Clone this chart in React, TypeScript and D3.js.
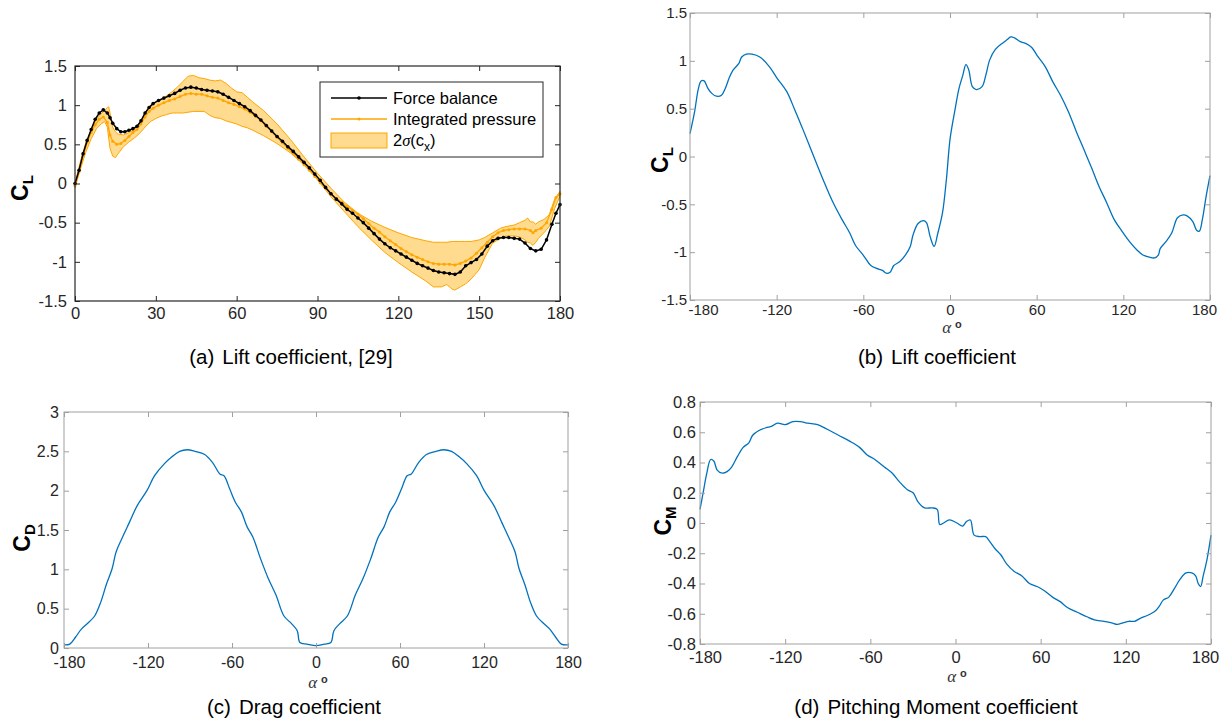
import { useEffect, useRef } from "react";
import * as d3 from "d3";

// ---- (a) lift coefficient, 0..180 deg, from [29]
const fbAlpha = [0, 1.5, 3, 4.5, 6, 7.5, 9, 10.5, 12, 13, 14, 15.5, 17, 18.5, 20, 21.5, 23, 24.5, 26, 27.5, 29, 31, 33, 35, 37, 39, 41, 43, 45, 47, 49, 51, 53, 55, 57, 59, 61, 63, 65, 67, 69, 71, 73, 75, 77, 79, 81, 83, 85, 87, 89, 91, 93, 95, 97, 99, 101, 103, 105, 107, 109, 111, 113, 115, 117, 119, 121, 123, 125, 127, 129, 131, 133, 135, 137, 139, 141, 143, 145, 147, 149, 151, 153, 155, 157, 159, 161, 163, 165, 167, 169, 171, 173, 175, 177, 178.5, 180];
const fbCL = [0, 0.17, 0.38, 0.55, 0.69, 0.82, 0.9, 0.94, 0.9, 0.84, 0.77, 0.7, 0.66, 0.66, 0.68, 0.7, 0.73, 0.8, 0.9, 0.97, 1.02, 1.06, 1.09, 1.12, 1.15, 1.19, 1.22, 1.23, 1.22, 1.2, 1.19, 1.18, 1.17, 1.14, 1.1, 1.06, 1.02, 0.98, 0.93, 0.87, 0.81, 0.74, 0.67, 0.6, 0.54, 0.47, 0.41, 0.34, 0.27, 0.2, 0.12, 0.04, -0.05, -0.13, -0.2, -0.26, -0.33, -0.38, -0.44, -0.5, -0.57, -0.64, -0.71, -0.77, -0.82, -0.86, -0.9, -0.94, -0.98, -1.02, -1.05, -1.08, -1.11, -1.13, -1.14, -1.15, -1.16, -1.13, -1.05, -1.01, -0.97, -0.9, -0.8, -0.73, -0.7, -0.69, -0.69, -0.7, -0.71, -0.76, -0.83, -0.86, -0.84, -0.72, -0.52, -0.38, -0.27];

const ipAlpha = [0, 1.5, 3, 4.5, 6, 7.5, 9, 10.5, 12, 13, 14, 15.5, 17, 18.5, 20, 21.5, 23, 24.5, 26, 27.5, 29, 31, 33, 35, 37, 39, 41, 43, 45, 47, 49, 51, 53, 55, 57, 59, 61, 63, 65, 67, 69, 71, 73, 75, 77, 79, 81, 83, 85, 87, 89, 91, 93, 95, 97, 99, 101, 103, 105, 107, 109, 111, 113, 115, 117, 119, 121, 123, 125, 127, 129, 131, 133, 135, 137, 139, 141, 143, 145, 147, 149, 151, 153, 155, 157, 159, 161, 163, 165, 167, 169, 170, 171, 173, 175, 177, 178.5, 180];
const ipCL = [-0.03, 0.15, 0.35, 0.52, 0.65, 0.75, 0.82, 0.85, 0.78, 0.62, 0.54, 0.5, 0.51, 0.55, 0.6, 0.65, 0.69, 0.76, 0.85, 0.92, 0.96, 1.0, 1.03, 1.06, 1.08, 1.11, 1.14, 1.15, 1.14, 1.14, 1.12, 1.1, 1.09, 1.06, 1.03, 1.01, 0.98, 0.95, 0.91, 0.86, 0.8, 0.73, 0.66, 0.59, 0.52, 0.45, 0.38, 0.31, 0.24, 0.17, 0.09, 0.01, -0.06, -0.13, -0.19, -0.24, -0.29, -0.34, -0.39, -0.45, -0.51, -0.57, -0.62, -0.68, -0.73, -0.78, -0.83, -0.87, -0.91, -0.94, -0.97, -1.0, -1.02, -1.03, -1.03, -1.03, -1.04, -1.02, -0.99, -0.95, -0.89, -0.82, -0.75, -0.68, -0.63, -0.6, -0.59, -0.58, -0.58, -0.58, -0.6, -0.63, -0.6, -0.57, -0.5, -0.33, -0.18, -0.13];

const bandAlpha = [0, 2, 4, 6, 8, 10, 11, 12, 12.5, 13, 14, 15, 16, 18, 20, 22, 24, 26, 28, 30, 32, 34, 36, 38, 40, 42, 44, 46, 48, 50, 52, 54, 56, 58, 60, 62, 64, 66, 70, 75, 80, 85, 90, 95, 100, 105, 110, 115, 120, 125, 130, 133, 136, 138, 140, 141, 143, 145, 147, 150, 152, 155, 158, 160, 163, 165, 167, 168, 169, 170, 171, 172, 174, 176, 178, 180];
const bandUpper = [0, 0.28, 0.52, 0.68, 0.82, 0.9, 0.93, 0.97, 0.98, 0.9, 0.72, 0.66, 0.63, 0.62, 0.65, 0.69, 0.76, 0.9, 1.0, 1.04, 1.08, 1.12, 1.17, 1.23, 1.3, 1.37, 1.38, 1.35, 1.34, 1.32, 1.31, 1.32, 1.28, 1.22, 1.17, 1.16, 1.1, 1.04, 0.93, 0.76, 0.56, 0.34, 0.13, -0.06, -0.24, -0.38, -0.48, -0.56, -0.63, -0.69, -0.73, -0.75, -0.75, -0.75, -0.74, -0.74, -0.74, -0.74, -0.74, -0.72, -0.69, -0.63, -0.57, -0.55, -0.53, -0.5, -0.47, -0.44, -0.49, -0.49, -0.52, -0.49, -0.46, -0.4, -0.2, -0.1];
const bandLower = [-0.05, 0.18, 0.4, 0.57, 0.7, 0.77, 0.79, 0.72, 0.58, 0.45, 0.35, 0.33, 0.38, 0.47, 0.53, 0.58, 0.64, 0.72, 0.79, 0.83, 0.86, 0.88, 0.9, 0.9, 0.9, 0.91, 0.92, 0.92, 0.92, 0.87, 0.84, 0.83, 0.8, 0.78, 0.76, 0.73, 0.71, 0.68, 0.61, 0.51, 0.39, 0.24, 0.05, -0.17, -0.36, -0.55, -0.72, -0.88, -1.01, -1.13, -1.24, -1.32, -1.32, -1.29, -1.35, -1.36, -1.32, -1.28, -1.22, -1.1, -0.95, -0.76, -0.7, -0.67, -0.67, -0.68, -0.72, -0.75, -0.76, -0.79, -0.75, -0.7, -0.63, -0.55, -0.32, -0.16];

// ---- (b) lift coefficient, -180..180
const clAlpha = [-180, -176.8, -174.2, -172.3, -170.2, -167.5, -164.9, -161.7, -158.2, -155.6, -152.9, -150.3, -146.3, -144.2, -141, -137, -131.7, -125.1, -119.8, -113.1, -107.8, -101.2, -94.6, -87.9, -81.3, -74.7, -69.4, -65.4, -60.1, -54.8, -50.8, -46.8, -44.2, -41.5, -38.9, -34.9, -30.9, -27.5, -25.6, -22.1, -18.4, -16.3, -13.7, -11, -8.4, -5.2, -2.5, 0.1, 3.6, 6.2, 8.9, 11, 12.9, 15.5, 18.2, 22.2, 24.8, 27.5, 31.4, 36.8, 39.4, 42.1, 44.7, 48.7, 52.7, 56.6, 60.6, 65.9, 71.2, 76.5, 81.9, 87.2, 92.5, 97.8, 103.1, 108.4, 113.7, 119, 124.3, 129.6, 133.6, 137.6, 141.6, 144.2, 145.6, 149.5, 153.5, 157.5, 161.4, 164.1, 168.1, 170.7, 172.6, 174.7, 177.4, 180];
const clValue = [0.24, 0.47, 0.71, 0.79, 0.79, 0.71, 0.66, 0.63, 0.64, 0.71, 0.82, 0.9, 0.97, 1.04, 1.07, 1.07, 1.04, 0.94, 0.82, 0.68, 0.5, 0.26, 0.01, -0.24, -0.47, -0.66, -0.8, -0.93, -1.03, -1.14, -1.17, -1.19, -1.22, -1.21, -1.14, -1.1, -1.03, -0.94, -0.82, -0.7, -0.67, -0.69, -0.84, -0.94, -0.8, -0.59, -0.24, 0.19, 0.5, 0.71, 0.85, 0.96, 0.91, 0.73, 0.7, 0.73, 0.85, 1.01, 1.12, 1.19, 1.22, 1.25, 1.24, 1.2, 1.18, 1.14, 1.05, 0.94, 0.78, 0.64, 0.47, 0.27, 0.08, -0.11, -0.31, -0.48, -0.66, -0.78, -0.89, -0.98, -1.03, -1.05, -1.06, -1.03, -0.96, -0.89, -0.8, -0.64, -0.61, -0.62, -0.68, -0.77, -0.78, -0.66, -0.41, -0.2];

// ---- (c) drag coefficient
const cdAlpha = [-180, -175.9, -171.7, -167.6, -162.1, -158, -153.8, -149.7, -145.6, -142.8, -138.7, -133.2, -127.7, -120.8, -115.3, -108.4, -102.9, -97.4, -91.9, -86.4, -79.5, -74, -68.5, -65.7, -61.6, -57.5, -53.3, -49.2, -45.1, -39.5, -34, -28.5, -23, -17.5, -13.4, -11.5, -6.5, 0, 6, 10.6, 12.8, 17, 22.5, 28, 33.5, 39, 44.5, 48.6, 52.7, 56.8, 61, 65.1, 67.9, 73.4, 78.9, 85.8, 91.3, 96.8, 102.3, 107.8, 114.7, 120.2, 127.1, 132.6, 138.1, 142.2, 145, 149.1, 153.2, 157.4, 161.5, 167, 171.1, 175.2, 180];
const cdValue = [0.04, 0.05, 0.14, 0.24, 0.33, 0.41, 0.58, 0.81, 1.01, 1.22, 1.39, 1.6, 1.81, 2.0, 2.19, 2.34, 2.43, 2.5, 2.52, 2.5, 2.46, 2.36, 2.21, 2.19, 2.02, 1.85, 1.73, 1.54, 1.41, 1.13, 0.88, 0.67, 0.41, 0.31, 0.22, 0.07, 0.05, 0.03, 0.05, 0.07, 0.22, 0.31, 0.41, 0.67, 0.88, 1.13, 1.41, 1.54, 1.73, 1.85, 2.02, 2.19, 2.21, 2.36, 2.46, 2.5, 2.52, 2.5, 2.43, 2.34, 2.19, 2.0, 1.81, 1.6, 1.39, 1.22, 1.01, 0.81, 0.58, 0.41, 0.33, 0.24, 0.14, 0.05, 0.04];

// ---- (d) pitching moment coefficient
const cmAlpha = [-180, -177.8, -175.2, -172.5, -170.3, -167.9, -164.4, -160.9, -157.7, -153.6, -149.6, -145.6, -142.9, -138.8, -133.5, -129.4, -125.4, -120, -114.6, -109.3, -103.9, -97.1, -90.4, -82.4, -74.3, -67.6, -62.2, -56.8, -50.1, -44.7, -39.3, -33.9, -29.9, -26.4, -21.8, -16.4, -12.9, -11.1, -8.4, -4.3, 1, 5, 7.8, 10.5, 13.1, 17.2, 21.2, 23.9, 27.9, 31.9, 36, 41.4, 46.8, 52.1, 57.5, 62.9, 68.3, 73.7, 79.1, 85.8, 92.6, 97.9, 104.6, 110, 114, 118, 122.1, 126.1, 130.2, 135.5, 140.9, 143.6, 146.3, 150.3, 154.4, 158.4, 162.4, 166.5, 169.2, 171, 172.7, 174.5, 177.2, 180];
const cmValue = [0.09, 0.2, 0.33, 0.42, 0.41, 0.35, 0.33, 0.34, 0.37, 0.44, 0.5, 0.53, 0.58, 0.61, 0.63, 0.64, 0.66, 0.65, 0.67, 0.67, 0.66, 0.65, 0.62, 0.58, 0.54, 0.5, 0.45, 0.42, 0.37, 0.33, 0.27, 0.22, 0.2, 0.14, 0.1, 0.1, 0.09, -0.01, 0.0, 0.02, 0.0, -0.02, 0.01, 0.02, -0.08, -0.09, -0.09, -0.12, -0.17, -0.21, -0.27, -0.32, -0.35, -0.4, -0.42, -0.45, -0.49, -0.52, -0.56, -0.59, -0.62, -0.64, -0.65, -0.66, -0.67, -0.66, -0.65, -0.65, -0.63, -0.61, -0.58, -0.55, -0.51, -0.49, -0.43, -0.37, -0.33, -0.33, -0.35, -0.4, -0.42, -0.35, -0.24, -0.08];

const ticks0to180 = [0, 30, 60, 90, 120, 150, 180];
const ticksFull = [-180, -120, -60, 0, 60, 120, 180];
const clTicks = [-1.5, -1, -0.5, 0, 0.5, 1, 1.5];
const cdTicks = [0, 0.5, 1, 1.5, 2, 2.5, 3];
const cmTicks = [-0.8, -0.6, -0.4, -0.2, 0, 0.2, 0.4, 0.6, 0.8];

const FONT = "'Liberation Sans', Arial, Helvetica, sans-serif";
const BLUE = "#0072BD";
const ORANGE = "#FFA500";
const BAND = "#FFDB8F";

const fmt = (d: any) => String(+(+d).toFixed(2));

function frame(g: any, x: any, y: any, xt: number[], yt: number[], o: any) {
  const [x0, x1] = x.range();
  const [y0, y1] = y.range();
  g.append("rect")
    .attr("x", x0).attr("y", y1)
    .attr("width", x1 - x0).attr("height", y0 - y1)
    .attr("fill", "none").attr("stroke", o.frame).attr("stroke-width", o.frameW);
  const bottom = g.append("g").attr("transform", `translate(0,${y0})`)
    .call(d3.axisBottom(x).tickValues(xt).tickSize(-5).tickPadding(o.xPad).tickFormat(fmt));
  g.append("g").attr("transform", `translate(0,${y1})`)
    .call(d3.axisTop(x).tickValues(xt).tickSize(-5).tickFormat(() => ""));
  g.append("g").attr("transform", `translate(${x0},0)`)
    .call(d3.axisLeft(y).tickValues(yt).tickSize(-5).tickPadding(o.yPad).tickFormat(fmt));
  g.append("g").attr("transform", `translate(${x1},0)`)
    .call(d3.axisRight(y).tickValues(yt).tickSize(-5).tickFormat(() => ""));
  g.selectAll(".domain").remove();
  g.selectAll(".tick line").attr("stroke", o.frame);
  g.selectAll("g").attr("font-family", FONT).attr("font-size", o.fs);
  g.selectAll(".tick text").attr("fill", o.text);
  const labels = bottom.selectAll(".tick text").nodes();
  d3.select(labels[0]).attr("dx", o.edge[0]);
  d3.select(labels[labels.length - 1]).attr("dx", o.edge[1]);
}

function yLabel(g: any, cx: number, cy: number, sub: string) {
  const t = g.append("text")
    .attr("transform", `translate(${cx},${cy}) rotate(-90)`)
    .attr("text-anchor", "middle").attr("font-family", FONT)
    .attr("font-weight", "bold").attr("fill", "#000");
  t.append("tspan").attr("font-size", 23).text("C");
  t.append("tspan").attr("font-size", 15).attr("dy", 5).text(sub);
}

function xLabel(g: any, cx: number, by: number) {
  const t = g.append("text").attr("x", cx).attr("y", by).attr("text-anchor", "middle").attr("fill", "#333");
  t.append("tspan").attr("font-family", "'Liberation Serif', 'DejaVu Serif', serif")
    .attr("font-style", "italic").attr("font-size", 17).text("α");
  t.append("tspan").attr("font-family", FONT).attr("font-weight", "bold")
    .attr("font-size", 11).attr("dx", 4).attr("dy", -5).text("o");
}

function caption(g: any, cx: number, by: number, tag: string, text: string) {
  const t = g.append("text").attr("x", cx).attr("y", by).attr("text-anchor", "middle")
    .attr("font-family", FONT).attr("font-size", 20.5).attr("fill", "#000");
  t.append("tspan").text(tag);
  t.append("tspan").attr("dx", 8).text(text);
}

function blueCurve(g: any, x: any, y: any, xs: number[], ys: number[]) {
  const line = d3.line<number>()
    .x((_, i) => x(xs[i])).y((d) => y(d))
    .curve(d3.curveCatmullRom.alpha(0.5));
  g.append("path").attr("d", line(ys)).attr("fill", "none")
    .attr("stroke", BLUE).attr("stroke-width", 1.3).attr("stroke-linejoin", "round");
}

export default function App() {
  const ref = useRef<SVGSVGElement>(null);

  useEffect(() => {
    const svg = d3.select(ref.current);
    svg.selectAll("*").remove();

    // ---------- (a)
    const ga = svg.append("g");
    const xa = d3.scaleLinear().domain([0, 180]).range([75, 560]);
    const ya = d3.scaleLinear().domain([-1.5, 1.5]).range([301, 66]);
    const area = d3.area<number>()
      .x((_, i) => xa(bandAlpha[i]))
      .y0((_, i) => ya(bandLower[i]))
      .y1((d) => ya(d));
    ga.append("path").attr("d", area(bandUpper)).attr("fill", BAND)
      .attr("stroke", ORANGE).attr("stroke-width", 1);
    const ipLine = d3.line<number>().x((_, i) => xa(ipAlpha[i])).y((d) => ya(d));
    ga.append("path").attr("d", ipLine(ipCL)).attr("fill", "none")
      .attr("stroke", ORANGE).attr("stroke-width", 1.3);
    ga.selectAll(".ipdot").data(ipCL).join("circle")
      .attr("cx", (_, i) => xa(ipAlpha[i])).attr("cy", (d) => ya(d))
      .attr("r", 1.5).attr("fill", ORANGE);
    const fbLine = d3.line<number>().x((_, i) => xa(fbAlpha[i])).y((d) => ya(d));
    ga.append("path").attr("d", fbLine(fbCL)).attr("fill", "none")
      .attr("stroke", "#000").attr("stroke-width", 1.5);
    ga.selectAll(".fbdot").data(fbCL).join("circle")
      .attr("cx", (_, i) => xa(fbAlpha[i])).attr("cy", (d) => ya(d))
      .attr("r", 1.8).attr("fill", "#000");
    frame(ga, xa, ya, ticks0to180, clTicks, {
      frame: "#262626", frameW: 1.2, text: "#262626", fs: 16.5, xPad: 6, yPad: 8, edge: [0, 0],
    });
    yLabel(ga, 28, 188, "L");
    caption(ga, 291, 364, "(a)", "Lift coefficient, [29]");

    // legend
    const lg = ga.append("g").attr("font-family", FONT).attr("font-size", 16.5).attr("fill", "#000");
    lg.append("rect").attr("x", 320).attr("y", 82).attr("width", 223).attr("height", 75)
      .attr("fill", "#fff").attr("stroke", "#262626").attr("stroke-width", 1);
    lg.append("line").attr("x1", 331).attr("x2", 387).attr("y1", 98).attr("y2", 98)
      .attr("stroke", "#000").attr("stroke-width", 1.5);
    lg.append("circle").attr("cx", 359).attr("cy", 98).attr("r", 1.8).attr("fill", "#000");
    lg.append("text").attr("x", 393).attr("y", 104).text("Force balance");
    lg.append("line").attr("x1", 331).attr("x2", 387).attr("y1", 119).attr("y2", 119)
      .attr("stroke", ORANGE).attr("stroke-width", 1.3);
    lg.append("circle").attr("cx", 359).attr("cy", 119).attr("r", 1.5).attr("fill", ORANGE);
    lg.append("text").attr("x", 393).attr("y", 125).text("Integrated pressure");
    lg.append("rect").attr("x", 331).attr("y", 133).attr("width", 56).attr("height", 15)
      .attr("fill", BAND).attr("stroke", ORANGE).attr("stroke-width", 1);
    const sig = lg.append("text").attr("x", 393).attr("y", 146);
    sig.append("tspan").text("2");
    sig.append("tspan").attr("font-family", "'Liberation Serif', serif").attr("font-style", "italic").text("σ");
    sig.append("tspan").text("(c");
    sig.append("tspan").attr("font-size", 12).attr("dy", 5).text("x");
    sig.append("tspan").attr("dy", -5).text(")");

    // ---------- (b)
    const gb = svg.append("g");
    const xb = d3.scaleLinear().domain([-180, 180]).range([690, 1210]);
    const yb = d3.scaleLinear().domain([-1.5, 1.5]).range([300, 13]);
    blueCurve(gb, xb, yb, clAlpha, clValue);
    frame(gb, xb, yb, ticksFull, clTicks, {
      frame: "#a0a0a0", frameW: 1, text: "#262626", fs: 15, xPad: 4, yPad: 3, edge: [13, -6],
    });
    yLabel(gb, 668, 160, "L");
    xLabel(gb, 952, 333);
    caption(gb, 937, 364, "(b)", "Lift coefficient");

    // ---------- (c)
    const gc = svg.append("g");
    const xc = d3.scaleLinear().domain([-180, 180]).range([64, 568]);
    const yc = d3.scaleLinear().domain([0, 3]).range([648, 412]);
    blueCurve(gc, xc, yc, cdAlpha, cdValue);
    frame(gc, xc, yc, ticksFull, cdTicks, {
      frame: "#a0a0a0", frameW: 1, text: "#262626", fs: 16, xPad: 9, yPad: 5, edge: [5, 0],
    });
    yLabel(gc, 30, 538, "D");
    xLabel(gc, 318, 688);
    caption(gc, 294, 714, "(c)", "Drag coefficient");

    // ---------- (d)
    const gd = svg.append("g");
    const xd = d3.scaleLinear().domain([-180, 180]).range([700, 1211]);
    const yd = d3.scaleLinear().domain([-0.8, 0.8]).range([644, 402]);
    blueCurve(gd, xd, yd, cmAlpha, cmValue);
    frame(gd, xd, yd, ticksFull, cmTicks, {
      frame: "#a0a0a0", frameW: 1, text: "#262626", fs: 16.5, xPad: 7, yPad: 4, edge: [5, -6],
    });
    yLabel(gd, 671, 521, "M");
    xLabel(gd, 957, 682);
    caption(gd, 936, 714, "(d)", "Pitching Moment coefficient");
  }, []);

  return (
    <svg
      ref={ref}
      width={1222}
      height={722}
      style={{ position: "absolute", left: 0, top: 0, background: "#fff" }}
    />
  );
}
